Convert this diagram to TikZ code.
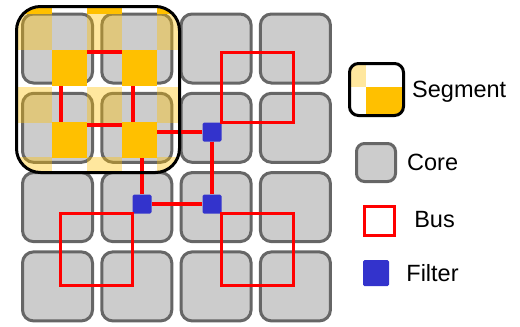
\documentclass[tikz,border=0pt]{standalone}
\usepackage{fontspec}
\setmainfont{Liberation Sans}
\usetikzlibrary{positioning}
\definecolor{segyellow}{RGB}{255,192,0}
\definecolor{coregray}{RGB}{204,204,204}
\definecolor{coreline}{RGB}{102,102,102}
\definecolor{filterblue}{RGB}{51,51,204}

\begin{document}
\begin{tikzpicture}[x=1pt,y=-1pt,
    core/.style={draw=coreline,fill=coregray,line width=3pt,rounded corners=11pt,inner sep=0pt},
    filter/.style={fill=filterblue,inner sep=0pt,rounded corners=1.5pt},
    bus/.style={draw=red,line width=3.2pt},
    lightcell/.style={fill=segyellow,fill opacity=0.38},
    darkcell/.style={fill=segyellow},
    segbox/.style={draw=black,line width=3pt,rounded corners=24pt,inner sep=0pt},
    legtext/.style={inner sep=0pt,text height=16.5pt,text depth=0pt,
                    font=\fontsize{23.5}{27}\selectfont}]
    \useasboundingbox (0,0) rectangle (520,327);
    \foreach \i in {0,...,3}{% Columns of the core array
      \foreach \j in {0,...,3}{% and its rows
        \node[core,minimum width=70pt,minimum height=69pt] (c\j\i)
            at ({57.5+79.3*\i},{48.5+79.3*\j}) {};}}
    \begin{scope}% Light half of the segment checker
      \clip[rounded corners=22pt] (16.5,6.5) rectangle (179.5,172.5);
      \foreach \x in {17,87,157}{
        \foreach \y in {14,87,157}{
          \fill[lightcell] (\x,\y) rectangle ++(35,36);}}
    \end{scope}
    % Filters
    \node[filter,minimum size=19pt] (f1) at (212,132) {};
    \node[filter,minimum size=19pt] (f2) at (212,204) {};
    \node[filter,minimum size=19pt] (f3) at (142,204) {};
    % Buses
    \draw[bus] (133,125) rectangle (61,52);
    \draw[bus] (f1.north east) rectangle ++(72,-70);
    \draw[bus] (f2.south east) rectangle ++(72,72);
    \draw[bus] (f3.south west) rectangle ++(-72,72);
    \draw[bus] (f1) -- (f2);
    \draw[bus] (f3) -- (f2);
    \draw[bus] (f1) -| (f3);
    \begin{scope}% Dark half of the segment checker
      \clip[rounded corners=22pt] (16.5,6.5) rectangle (179.5,172.5);
      \foreach \x in {17,87,157}{
        \fill[darkcell] (\x,-20) rectangle ++(35,34);}
      \foreach \x in {-18,52,122}{
        \foreach \y in {50,122}{
          \fill[darkcell] (\x,\y) rectangle ++(35,36);}}
    \end{scope}
    \node[segbox,minimum width=163pt,minimum height=166pt] (seg) at (98,89.5) {};
    % Legend
    \begin{scope}
      \clip[rounded corners=8pt] (349.5,63.5) rectangle (403.5,115.5);
      \fill[lightcell] (349.5,63.5) rectangle (366,87);
      \fill[darkcell] (366,87) rectangle (403.5,115.5);
    \end{scope}
    \node[segbox,rounded corners=9pt,minimum width=54pt,minimum height=52pt] (legseg) at (376.5,89.5) {};
    \node[legtext,right=7pt of legseg] (tseg) {Segment};
    \node[core,rounded corners=8pt,minimum width=39pt,minimum height=38pt] (legcore) at (376,162.5) {};
    \node[legtext,right=10pt of legcore] (tcore) {Core};
    \node[bus,inner sep=0pt,minimum width=30pt,minimum height=29pt] (legbus) at (379.5,221) {};
    \node[legtext,right=18pt of legbus,yshift=2pt] (tbus) {Bus};
    \node[filter,minimum size=26pt] (legfilter) at (376,273) {};
    \node[legtext,right=17pt of legfilter] (tfilter) {Filter};
\end{tikzpicture}
\end{document}
